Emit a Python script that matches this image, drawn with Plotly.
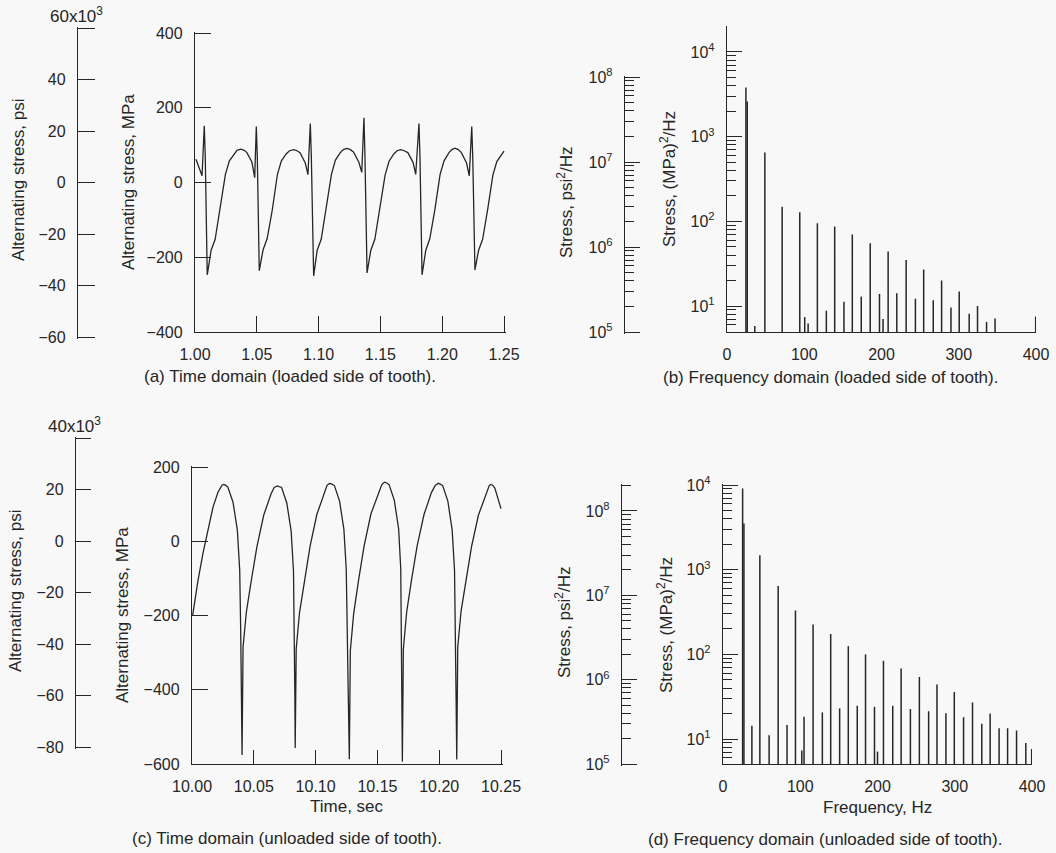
import plotly.graph_objects as go

W, H = 1056, 853
FONT = "Liberation Sans, Arial, Helvetica, sans-serif"
INK = "#262626"
BG = "#f8f8f8"

# ---------------- (a) time domain, loaded side of tooth ----------------
t_loaded = [1.0008, 1.0035, 1.0057,
            1.0075, 1.0083, 1.0099, 1.0130, 1.0163, 1.0204, 1.0246, 1.0278, 1.0318, 1.0340, 1.0372, 1.0398, 1.0420, 1.0461, 1.0483,
            1.0496, 1.0504, 1.0520, 1.0551, 1.0584, 1.0625, 1.0667, 1.0699, 1.0739, 1.0765, 1.0799, 1.0825, 1.0850, 1.0892, 1.0914,
            1.0933, 1.0941, 1.0960, 1.0988, 1.1021, 1.1062, 1.1104, 1.1136, 1.1176, 1.1200, 1.1230, 1.1257, 1.1282, 1.1325, 1.1349,
            1.1367, 1.1375, 1.1392, 1.1422, 1.1455, 1.1496, 1.1538, 1.1570, 1.1610, 1.1635, 1.1664, 1.1692, 1.1722, 1.1764, 1.1786,
            1.1812, 1.1820, 1.1837, 1.1867, 1.1900, 1.1941, 1.1983, 1.2015, 1.2055, 1.2078, 1.2104, 1.2130, 1.2155, 1.2197, 1.2219,
            1.2239, 1.2247, 1.2265, 1.2294, 1.2327, 1.2368, 1.2410, 1.2442, 1.2482, 1.2500]
mpa_loaded = [62, 40, 18,
              152, 70, -247, -182, -152, -72, 22, 58, 78, 86, 89, 86, 80, 54, 13,
              150, 70, -236, -180, -150, -74, 22, 58, 77, 85, 88, 85, 80, 52, 21,
              158, 72, -250, -182, -152, -70, 22, 60, 80, 88, 91, 88, 82, 55, 27,
              173, 72, -242, -182, -152, -72, 20, 57, 77, 85, 88, 85, 80, 54, 22,
              158, 70, -247, -182, -150, -72, 22, 58, 80, 88, 92, 88, 80, 52, 18,
              150, 70, -234, -182, -152, -72, 20, 56, 76, 84]

# ---------------- (c) time domain, unloaded side of tooth ----------------
t_unloaded = [10.0005, 10.0049, 10.0089, 10.0129, 10.0170, 10.0210, 10.0235, 10.0243, 10.0255,
              10.0270, 10.0290, 10.0332, 10.0367, 10.0386, 10.0394, 10.0399, 10.0405,
              10.0413, 10.0440, 10.0480, 10.0525, 10.0580, 10.0640, 10.0665, 10.0678, 10.0690,
              10.0705, 10.0725, 10.0767, 10.0802, 10.0821, 10.0829, 10.0832, 10.0835,
              10.0843, 10.0870, 10.0910, 10.0955, 10.1010, 10.1070, 10.1092, 10.1105, 10.1117,
              10.1132, 10.1152, 10.1194, 10.1229, 10.1248, 10.1258, 10.1265, 10.1273,
              10.1281, 10.1308, 10.1348, 10.1393, 10.1448, 10.1508, 10.1535, 10.1548, 10.1560,
              10.1575, 10.1595, 10.1637, 10.1672, 10.1689, 10.1695, 10.1699, 10.1702,
              10.1710, 10.1737, 10.1777, 10.1822, 10.1877, 10.1937, 10.1968, 10.1981, 10.1993,
              10.2008, 10.2028, 10.2070, 10.2105, 10.2124, 10.2132, 10.2137, 10.2142,
              10.2150, 10.2177, 10.2217, 10.2262, 10.2317, 10.2377, 10.2395, 10.2405, 10.2417,
              10.2432, 10.2450, 10.2500]
mpa_unloaded = [-200, -105, -32, 30, 92, 132, 148, 151, 153,
                151, 146, 105, 30, -78, -240, -420, -576,
                -285, -190, -105, -15, 70, 128, 145, 148, 149,
                147, 145, 103, 28, -80, -240, -410, -557,
                -290, -192, -106, -14, 72, 130, 150, 154, 156,
                154, 150, 108, 32, -76, -245, -430, -587,
                -295, -195, -104, -12, 74, 132, 152, 157, 159,
                157, 152, 110, 33, -75, -250, -440, -594,
                -290, -190, -102, -12, 72, 131, 150, 154, 156,
                154, 150, 108, 30, -78, -245, -430, -588,
                -285, -188, -103, -14, 70, 128, 146, 150, 153,
                151, 143, 88]

# ---------------- (b) spectrum, loaded side (MPa^2/Hz) ----------------
freq_loaded = [24.5, 26.2, 36.0, 49.0, 71.4, 94.2, 100.6, 105.0, 117.0, 128.6,
               139.4, 151.4, 162.2, 173.8, 185.4, 197.4, 202.0, 208.6, 219.8, 231.9,
               243.9, 254.6, 267.0, 277.8, 289.9, 300.6, 313.5, 324.3, 336.0, 347.0,
               399.6]
psd_loaded = [3800, 2600, 5.8, 650, 149, 128, 7.4, 6.2, 95, 8.8,
              87, 11.2, 70, 12.9, 55, 13.9, 7.0, 44, 14.1, 35,
              12.2, 27, 11.7, 20, 9.6, 14.8, 8.1, 10, 6.5, 7.1,
              7.5]

# ---------------- (d) spectrum, unloaded side (MPa^2/Hz) ----------------
freq_unloaded = [25.4, 27.1, 37.4, 47.7, 59.7, 71.4, 82.9, 93.8, 102.0, 104.9,
                 116.6, 128.6, 139.4, 151.0, 162.2, 173.8, 184.5, 196.1, 200.0, 207.7,
                 219.7, 230.6, 242.6, 254.2, 266.2, 277.0, 288.6, 299.4, 311.4, 323.0,
                 335.0, 345.8, 357.4, 368.4, 380.0, 392.0, 399.6]
psd_unloaded = [9100, 3500, 14.3, 1480, 11.1, 640, 14.6, 330, 7.3, 18.3,
                225, 20.6, 174, 23, 125, 24.7, 100, 24, 7.1, 84,
                24.7, 68, 22.6, 54, 21.3, 44, 20.1, 36, 18.1, 27,
                15.1, 20, 13.4, 13.4, 12.6, 9.0, 7.6]

# ---------------- tick values ----------------
time_ticks_a = [1.00, 1.05, 1.10, 1.15, 1.20, 1.25]
time_ticks_c = [10.00, 10.05, 10.10, 10.15, 10.20, 10.25]
mpa_ticks_a = [-400, -200, 0, 200, 400]
mpa_ticks_c = [-600, -400, -200, 0, 200]
psi_ticks_a = [-60, -40, -20, 0, 20, 40, 60]
psi_labels_a = ["\u221260", "\u221240", "\u221220", "0", "20", "40", ""]
psi_ticks_c = [-80, -60, -40, -20, 0, 20, 40]
psi_labels_c = ["\u221280", "\u221260", "\u221240", "\u221220", "0", "20", ""]
freq_ticks = [0, 100, 200, 300, 400]
mpa2_decades = [1, 2, 3, 4]
psi2_decades = [5, 6, 7, 8]


def fx(px):
    return px / W


def fy(py):
    return 1 - py / H


def y_scale(r0, r1, bot_px, top_px, pad_bot=0.0, pad_top=0.0):
    """Range and domain of a vertical scale placed between two pixel rows.
    A little padding keeps end ticks from being dropped by the renderer."""
    upp = (r1 - r0) / (bot_px - top_px)
    rng = [r0 - pad_bot * upp, r1 + pad_top * upp]
    dom = [fy(bot_px + pad_bot), fy(top_px - pad_top)]
    return rng, dom


def x_scale(r0, r1, left_px, right_px, pad_right=0.0):
    upp = (r1 - r0) / (right_px - left_px)
    return [r0, r1 + pad_right * upp], [fx(left_px), fx(right_px + pad_right)]


def spikes(freqs, vals, floor=1.0):
    xs, ys = [], []
    for f, v in zip(freqs, vals):
        xs += [f, f, None]
        ys += [floor, v, None]
    return xs, ys


def log_minor(lo_exp, hi_exp):
    vals = []
    for e in range(lo_exp, hi_exp + 1):
        for m in range(2, 10):
            vals.append(m * 10 ** e)
    return vals


tickfont = dict(family=FONT, size=16, color=INK)
base = dict(showline=True, linecolor=INK, linewidth=1.4, ticks="inside",
            tickcolor=INK, tickwidth=1.4, showgrid=False, zeroline=False,
            tickfont=tickfont, fixedrange=True, automargin=False)


def dummy_x(px):
    return dict(domain=[fx(px), fx(px + 1)], visible=False, range=[0, 1],
                fixedrange=True, automargin=False)


fig = go.Figure()
line = dict(color=INK, width=1.3)

fig.add_trace(go.Scatter(x=t_loaded, y=mpa_loaded, mode="lines", line=line,
                         xaxis="x", yaxis="y", showlegend=False, hoverinfo="skip"))
fig.add_trace(go.Scatter(x=t_unloaded, y=mpa_unloaded, mode="lines", line=line,
                         xaxis="x5", yaxis="y5", showlegend=False, hoverinfo="skip"))
sx, sy = spikes(freq_loaded, psd_loaded)
fig.add_trace(go.Scatter(x=sx, y=sy, mode="lines", line=dict(color=INK, width=1.5),
                         xaxis="x3", yaxis="y3", showlegend=False, hoverinfo="skip"))
sx, sy = spikes(freq_unloaded, psd_unloaded)
fig.add_trace(go.Scatter(x=sx, y=sy, mode="lines", line=dict(color=INK, width=1.5),
                         xaxis="x7", yaxis="y7", showlegend=False, hoverinfo="skip"))
# secondary (psi) scales carry no data of their own
for xa, ya in [("x2", "y2"), ("x4", "y4"), ("x6", "y6"), ("x8", "y8")]:
    fig.add_trace(go.Scatter(x=[None], y=[None], xaxis=xa, yaxis=ya,
                             showlegend=False, hoverinfo="skip"))

mpa2_vals = [10 ** e for e in mpa2_decades]
mpa2_text = ["10<sup>%d</sup>" % e for e in mpa2_decades]
psi2_vals = [10 ** e for e in psi2_decades]
psi2_text = ["10<sup>%d</sup>" % e for e in psi2_decades]
minor_style = dict(ticks="inside", ticklen=9, tickcolor=INK, tickwidth=1.2)

# scale placement (pixel rows / columns of each axis line)
xr_a, xd_a = x_scale(1.0, 1.25, 195, 504, pad_right=1.5)
yr_a, yd_a = y_scale(-400, 400, 332, 33, pad_top=1.5)
pr_a, pd_a = y_scale(-60, 60, 337, 28, pad_bot=1.5, pad_top=1.5)
xr_c, xd_c = x_scale(10.0, 10.25, 192, 501, pad_right=1.5)
yr_c, yd_c = y_scale(-600, 200, 764, 467, pad_top=1.5)
pr_c, pd_c = y_scale(-80, 40, 747, 438, pad_bot=1.5, pad_top=1.5)
yr_b, yd_b = y_scale(0.693, 4.295, 332, 27, pad_top=1.5)
pr_b, pd_b = y_scale(5.0, 8.0, 332, 77, pad_bot=1.5, pad_top=1.5)
yr_d, yd_d = y_scale(0.705, 4.0, 764, 485, pad_top=1.5)
pr_d, pd_d = y_scale(5.0, 8.308, 764, 485, pad_bot=1.5, pad_top=1.5)

fig.update_layout(
    template="none",
    width=W, height=H, margin=dict(l=0, r=0, t=0, b=0, autoexpand=False),
    paper_bgcolor=BG, plot_bgcolor="rgba(0,0,0,0)",
    font=dict(family=FONT, color=INK, size=16),
    showlegend=False,
    # (a)
    xaxis=dict(base, domain=xd_a, range=xr_a, anchor="y",
               tickvals=time_ticks_a, tickformat=".2f", ticklen=16, ticklabelstandoff=8),
    yaxis=dict(base, domain=yd_a, range=yr_a, anchor="x",
               tickvals=mpa_ticks_a, ticklen=16, ticklabelstandoff=8),
    xaxis2=dummy_x(78),
    yaxis2=dict(base, domain=pd_a, range=pr_a, anchor="x2",
                tickvals=psi_ticks_a, ticktext=psi_labels_a, ticklen=17, ticklabelstandoff=8),
    # (b)
    xaxis3=dict(base, domain=[fx(727), fx(1036)], range=[0, 400], anchor="y3",
                ticks="", tickvals=freq_ticks, ticklabelstandoff=8),
    yaxis3=dict(base, type="log", domain=yd_b, range=yr_b, anchor="x3",
                tickvals=mpa2_vals, ticktext=mpa2_text, ticklen=15, ticklabelstandoff=8,
                minor=dict(minor_style, tickvals=log_minor(0, 4))),
    xaxis4=dummy_x(625),
    yaxis4=dict(base, type="log", domain=pd_b, range=pr_b, anchor="x4",
                tickvals=psi2_vals, ticktext=psi2_text, ticklen=15, ticklabelstandoff=8,
                minor=dict(minor_style, tickvals=log_minor(5, 7))),
    # (c)
    xaxis5=dict(base, domain=xd_c, range=xr_c, anchor="y5",
                tickvals=time_ticks_c, tickformat=".2f", ticklen=14, ticklabelstandoff=8),
    yaxis5=dict(base, domain=yd_c, range=yr_c, anchor="x5",
                tickvals=mpa_ticks_c, ticklen=16, ticklabelstandoff=8),
    xaxis6=dummy_x(76),
    yaxis6=dict(base, domain=pd_c, range=pr_c, anchor="x6",
                tickvals=psi_ticks_c, ticktext=psi_labels_c, ticklen=15, ticklabelstandoff=8),
    # (d)
    xaxis7=dict(base, domain=[fx(723), fx(1032)], range=[0, 400], anchor="y7",
                ticks="", tickvals=freq_ticks, ticklabelstandoff=8),
    yaxis7=dict(base, type="log", domain=yd_d, range=yr_d, anchor="x7",
                tickvals=mpa2_vals, ticktext=mpa2_text, ticklen=15, ticklabelstandoff=8,
                minor=dict(minor_style, tickvals=log_minor(0, 3))),
    xaxis8=dummy_x(622),
    yaxis8=dict(base, type="log", domain=pd_d, range=pr_d, anchor="x8",
                tickvals=psi2_vals, ticktext=psi2_text, ticklen=15, ticklabelstandoff=8,
                minor=dict(minor_style, tickvals=log_minor(5, 8))),
)

TXT = dict(family=FONT, size=17, color=INK)


def label(text, x, y, angle=0):
    fig.add_annotation(text=text, x=fx(x), y=fy(y), xref="paper", yref="paper",
                       showarrow=False, textangle=angle, font=TXT,
                       xanchor="center", yanchor="middle")


# axis titles
label("Alternating stress, psi", 18, 180, -90)
label("Alternating stress, MPa", 128, 182, -90)
label("Alternating stress, psi", 15, 591, -90)
label("Alternating stress, MPa", 122, 615, -90)
label("Stress, psi<sup>2</sup>/Hz", 565, 203, -90)
label("Stress, (MPa)<sup>2</sup>/Hz", 668, 179, -90)
label("Stress, psi<sup>2</sup>/Hz", 563, 623, -90)
label("Stress, (MPa)<sup>2</sup>/Hz", 665, 625, -90)
label("60x10<sup>3</sup>", 76, 15)
label("40x10<sup>3</sup>", 74, 425)
label("Time, sec", 347, 806)
label("Frequency, Hz", 877, 807)

# panel captions
label("(a) Time domain (loaded side of tooth).", 290, 376)
label("(b) Frequency domain (loaded side of tooth).", 830, 377)
label("(c) Time domain (unloaded side of tooth).", 287, 838)
label("(d) Frequency domain (unloaded side of tooth).", 825, 839)

fig.write_html("out.html")
